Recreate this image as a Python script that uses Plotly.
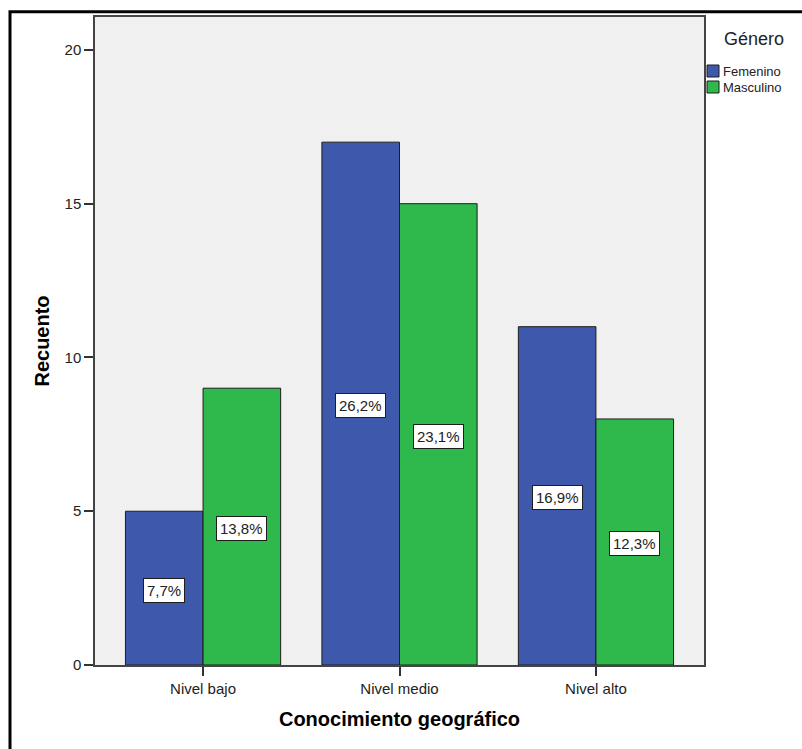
import plotly.graph_objects as go

# ---- data ----
categories = ["Nivel bajo", "Nivel medio", "Nivel alto"]
femenino = [5, 17, 11]
masculino = [9, 15, 8]
series_names = ["Femenino", "Masculino"]
y_ticks = [0, 5, 10, 15, 20]
legend_title = "Género"
x_title = "Conocimiento geográfico"
y_title = "Recuento"

# ---- layout constants (pixels) ----
W, H = 802, 749
ML, MR, MT, MB = 95, 98, 17, 84
PW = W - ML - MR
PH = H - MT - MB
Y_MAX = 21.07

BLUE = "#3e58ac"
GREEN = "#2fb84b"
OUTLINE = "#1e1e1e"
BARGAP = 0.21
FONT = "Arial, 'Liberation Sans', sans-serif"
TEXT = "#222222"


def px_x(px):
    return (px - ML) / PW


def px_y(py):
    return (H - MB - py) / PH


total = sum(femenino) + sum(masculino)


def pct(v):
    return f"{v / total * 100:.1f}".replace(".", ",") + "%"


colors = [BLUE, GREEN]
series = [femenino, masculino]

fig = go.Figure()
for name, vals, color in zip(series_names, series, colors):
    fig.add_trace(go.Bar(
        x=categories, y=vals, name=name,
        marker=dict(color=color, line=dict(color=OUTLINE, width=1)),
        showlegend=False,
    ))

# percentage labels centred inside each bar
half = (1 - BARGAP) / 4
annotations = []
for k, vals in enumerate(series):
    off = -half if k == 0 else half
    for i, v in enumerate(vals):
        annotations.append(dict(
            x=i + off, y=v / 2, xref="x", yref="y", text=pct(v),
            showarrow=False, yshift=-2,
            font=dict(family=FONT, size=15, color=TEXT),
            bgcolor="white", bordercolor=OUTLINE, borderwidth=1, borderpad=3,
        ))

# legend drawn as swatches + labels
shapes = []
annotations.append(dict(
    x=px_x(722), y=px_y(39), xref="paper", yref="paper", text=legend_title,
    showarrow=False, xanchor="left", yanchor="middle",
    font=dict(family=FONT, size=18, color=TEXT),
))
for k, (name, color) in enumerate(zip(series_names, colors)):
    top = 65 + 16 * k
    shapes.append(dict(
        type="rect", xref="paper", yref="paper",
        x0=px_x(707), x1=px_x(719), y0=px_y(top), y1=px_y(top + 12),
        fillcolor=color, line=dict(color=OUTLINE, width=1),
    ))
    annotations.append(dict(
        x=px_x(722), y=px_y(top + 6), xref="paper", yref="paper", text=name,
        showarrow=False, xanchor="left", yanchor="middle", borderpad=0,
        font=dict(family=FONT, size=13, color=TEXT),
    ))

# outer frame around the whole chart
shapes.append(dict(
    type="rect", xref="paper", yref="paper",
    x0=px_x(10), x1=px_x(W + 20), y0=px_y(11.7), y1=px_y(H + 20),
    line=dict(color="black", width=3), fillcolor="rgba(0,0,0,0)", layer="above",
))

fig.update_layout(
    width=W, height=H,
    margin=dict(l=ML, r=MR, t=MT, b=MB, pad=0),
    paper_bgcolor="white", plot_bgcolor="#f0f0f0",
    barmode="group", bargap=BARGAP, bargroupgap=0,
    font=dict(family=FONT, size=15, color=TEXT),
    annotations=annotations, shapes=shapes,
    xaxis=dict(
        type="category", range=[-0.55, 2.55],
        showline=True, linecolor="#444444", linewidth=1.5, mirror=True,
        ticks="outside", ticklen=9, tickcolor="#333333", tickwidth=1.5,
        tickfont=dict(family=FONT, size=15, color=TEXT),
        showgrid=False,
        title=dict(text=x_title, standoff=16,
                   font=dict(family=FONT, size=20, color="black", weight="bold")),
    ),
    yaxis=dict(
        range=[0, Y_MAX], tickvals=y_ticks,
        showline=True, linecolor="#444444", linewidth=1.5, mirror=True,
        ticks="outside", ticklen=9, tickcolor="#333333", tickwidth=1.5,
        tickfont=dict(family=FONT, size=15, color=TEXT),
        showgrid=False, zeroline=False,
        title=dict(text=y_title, standoff=10,
                   font=dict(family=FONT, size=20, color="black", weight="bold")),
    ),
)

fig.write_html("out.html")
